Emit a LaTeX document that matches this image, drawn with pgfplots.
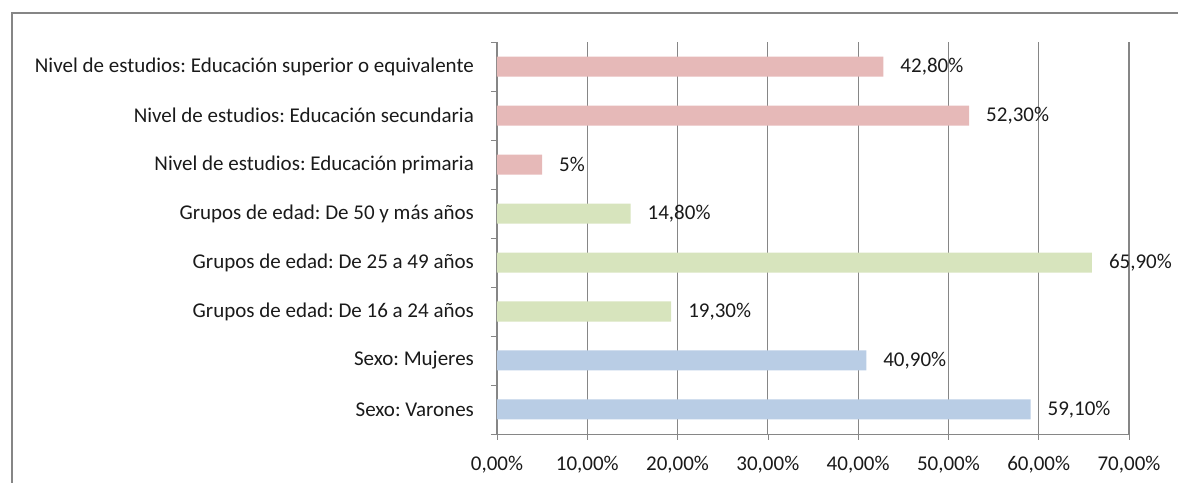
\documentclass[border=0pt]{standalone}
\usepackage{pgfplots}
\pgfplotsset{compat=1.18}
\usepackage{fontspec}
\setmainfont{Carlito}
\frenchspacing
\definecolor{pinkbar}{HTML}{E6B9B8}
\definecolor{greenbar}{HTML}{D7E4BD}
\definecolor{bluebar}{HTML}{B9CDE5}
\definecolor{gridgray}{HTML}{868686}
\definecolor{txt}{HTML}{1A1A1A}
\begin{document}
\begin{tikzpicture}
\useasboundingbox (-248.5pt,-24pt) rectangle (340.5pt,217pt);
\draw[gridgray,line width=1pt] (-242.5pt,-30pt) -- (-242.5pt,210.5pt) -- (350pt,210.5pt);
\begin{axis}[
at={(0pt,12.25pt)},anchor=origin,
scale only axis,width=316pt,height=196pt,
font=\fontsize{10.5}{12}\selectfont,
xmin=0,xmax=70,ymin=-0.5,ymax=7.5,
xbar,bar width=10pt,bar shift=0pt,
axis lines*=left,
axis line style={gridgray},
xmajorgrids,grid style={gridgray,line width=0.6pt},
xtick={0,10,...,70},
xticklabels={{0,00\%},{10,00\%},{20,00\%},{30,00\%},{40,00\%},{50,00\%},{60,00\%},{70,00\%}},
ytick={0,...,7},
yticklabels={Sexo: Varones,Sexo: Mujeres,Grupos de edad: De 16 a 24 años,Grupos de edad: De 25 a 49 años,Grupos de edad: De 50 y más años,Nivel de estudios: Educación primaria,Nivel de estudios: Educación secundaria,Nivel de estudios: Educación superior o equivalente},
minor ytick={-0.5,0.5,...,7.5},
tick align=outside,
major tick length=3pt,
y tick style={draw=none},
minor y tick style={gridgray,draw=gridgray},
minor tick length=3pt,
x tick style={gridgray},
tick label style={text=txt},
yticklabel style={xshift=-5pt},
xticklabel style={yshift=-4.5pt},
nodes near coords,point meta=explicit symbolic,
nodes near coords style={anchor=west,xshift=5pt,text=txt},
]
\addplot[fill=bluebar,draw=none] coordinates {(59.1,0) [59,10\%] (40.9,1) [40,90\%]};
\addplot[fill=greenbar,draw=none] coordinates {(19.3,2) [19,30\%] (65.9,3) [65,90\%] (14.8,4) [14,80\%]};
\addplot[fill=pinkbar,draw=none] coordinates {(5,5) [5\%] (52.3,6) [52,30\%] (42.8,7) [42,80\%]};
\end{axis}
\end{tikzpicture}
\end{document}
